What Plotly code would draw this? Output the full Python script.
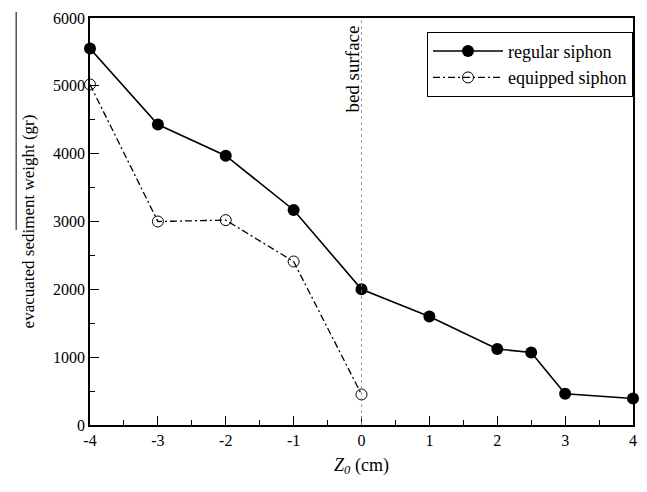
import plotly.graph_objects as go

x_regular = [-4, -3, -2, -1, 0, 1, 2, 2.5, 3, 4]
y_regular = [5550, 4430, 3970, 3170, 2000, 1600, 1120, 1070, 460, 390]
x_equipped = [-4, -3, -2, -1, 0]
y_equipped = [5020, 3000, 3020, 2410, 450]
x_ticks = [-4, -3, -2, -1, 0, 1, 2, 3, 4]
x_ticktext = ["-4", "-3", "-2", "-1", "0", "1", "2", "3", "4"]

FONT = "'Liberation Serif', 'Times New Roman', 'DejaVu Serif', serif"

fig = go.Figure()
fig.add_trace(go.Scatter(
    x=x_regular, y=y_regular, mode="lines+markers", name="regular siphon",
    line=dict(color="black", width=1.6),
    marker=dict(symbol="circle", size=12, color="black"),
    cliponaxis=False))
fig.add_trace(go.Scatter(
    x=x_equipped, y=y_equipped, mode="lines+markers", name="equipped siphon",
    line=dict(color="black", width=1.3, dash="7px,3px,2px,3px"),
    marker=dict(symbol="circle-open", size=11, color="black", line=dict(width=1)),
    cliponaxis=False))

fig.add_shape(type="line", xref="x", yref="paper", x0=0, x1=0, y0=0, y1=1,
              line=dict(color="#888", width=0.8, dash="dot"))
fig.add_annotation(text="bed surface", xref="x", yref="paper", x=0, y=0.985,
                   xanchor="right", yanchor="top", textangle=-90, showarrow=False,
                   xshift=4, font=dict(family=FONT, size=19, color="black"))
fig.add_shape(type="line", xref="paper", yref="paper", x0=-0.136, x1=-0.136,
              y0=(492 - 12 - 67) / 407, y1=(492 - 230 - 67) / 407,
              line=dict(color="black", width=1))

fig.update_layout(
    width=647, height=492,
    margin=dict(l=90, r=10, t=18, b=67),
    plot_bgcolor="white", paper_bgcolor="white",
    font=dict(family=FONT, size=16, color="black"),
    showlegend=True,
    legend=dict(x=1, xanchor="right", y=0.966, yanchor="top",
                bordercolor="black", borderwidth=1, bgcolor="white",
                itemwidth=70,
                font=dict(family=FONT, size=18), tracegroupgap=0),
    xaxis=dict(range=[-4, 4], tickvals=x_ticks, ticktext=x_ticktext,
               showgrid=False, zeroline=False,
               showline=True, linecolor="black", linewidth=1.5, mirror=True,
               ticks="inside", ticklen=9, tickwidth=1.3, tickcolor="black",
               minor=dict(ticks="inside", ticklen=5, dtick=0.5, tickcolor="black", tickwidth=1.2),
               title=dict(text="<i>Z<sub>0</sub></i> (cm)", font=dict(family=FONT, size=18), standoff=10),
               tickfont=dict(family=FONT, size=16)),
    yaxis=dict(range=[0, 6000], dtick=1000, showgrid=False, zeroline=False,
               showline=True, linecolor="black", linewidth=1.5, mirror=True,
               ticks="inside", ticklen=9, tickwidth=1.3, tickcolor="black",
               minor=dict(ticks="inside", ticklen=5, dtick=500, tickcolor="black", tickwidth=1.2),
               title=dict(text="evacuated sediment weight (gr)", font=dict(family=FONT, size=17), standoff=14),
               tickfont=dict(family=FONT, size=16)),
)

fig.write_html("out.html")
